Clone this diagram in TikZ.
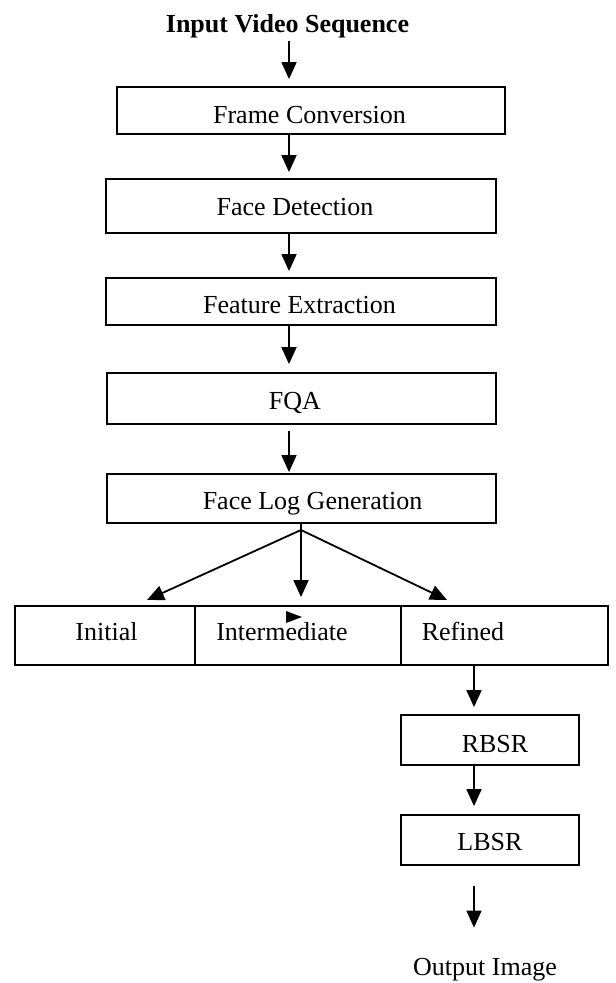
\documentclass[tikz,border=0pt]{standalone}
\usepackage{fontspec}
\setmainfont{Liberation Serif}
\usetikzlibrary{arrows.meta}
\tikzset{
  box/.style={draw, line width=1.8pt, rectangle, inner sep=0pt},
  lbl/.style={inner sep=0pt, anchor=base, font=\fontsize{26}{31}\selectfont},
  arr/.style={line width=1.8pt, -{Triangle[width=15pt,length=17pt]}},
  ln/.style={line width=1.8pt}
}
\begin{document}
\begin{tikzpicture}[x=1pt,y=-1pt]
\useasboundingbox (0,0) rectangle (616,983);
% boxes
\node[box, minimum width=388pt, minimum height=47pt] (fc) at (311,110.5) {};
\node[box, minimum width=390pt, minimum height=54pt] (fd) at (301,206) {};
\node[box, minimum width=390pt, minimum height=47pt] (fe) at (301,301.5) {};
\node[box, minimum width=389pt, minimum height=51pt] (fqa) at (301.5,398.5) {};
\node[box, minimum width=389pt, minimum height=49pt] (flg) at (301.5,498.5) {};
\node[box, minimum width=180pt, minimum height=59pt] (ini) at (105,635.5) {};
\node[box, minimum width=206pt, minimum height=59pt] (inter) at (298,635.5) {};
\node[box, minimum width=207pt, minimum height=59pt] (ref) at (504.5,635.5) {};
\node[box, minimum width=178pt, minimum height=50pt] (rbsr) at (490,740) {};
\node[box, minimum width=178pt, minimum height=50pt] (lbsr) at (490,840) {};
% labels
\node[lbl, font=\fontsize{26}{31}\selectfont\bfseries] (title) at (287.5,32) {Input Video Sequence};
\node[lbl] (tfc) at (309.5,123) {Frame Conversion};
\node[lbl] (tfd) at (295,215) {Face Detection};
\node[lbl] (tfe) at (299.5,313) {Feature Extraction};
\node[lbl] (tfqa) at (295,409) {FQA};
\node[lbl] (tflg) at (312.5,509) {Face Log Generation};
\node[lbl] (tini) at (106.5,640) {Initial};
\node[lbl] (tinter) at (282,640) {Intermediate};
\node[lbl] (tref) at (463,640) {Refined};
\node[lbl] (trbsr) at (495,752) {RBSR};
\node[lbl] (tlbsr) at (490,850) {LBSR};
\node[lbl] (out) at (485,975) {Output Image};
% coordinates
\coordinate (axis) at (289,0);
\coordinate (axis2) at (474,0);
\coordinate (fork) at (301,530);
\coordinate (tipL) at (147,600);
\coordinate (tipR) at (447,600);
% connectors
\draw[arr, shorten <=3pt, shorten >=7pt] (title.south -| axis) -- (fc.north -| axis);
\draw[arr, shorten >=6pt] (fc.south -| axis) -- (fd.north -| axis);
\draw[arr, shorten >=6pt] (fd.south -| axis) -- (fe.north -| axis);
\draw[arr, shorten >=8pt] (fe.south -| axis) -- (fqa.north -| axis);
\draw[arr, shorten <=6pt, shorten >=1pt] (fqa.south -| axis) -- (flg.north -| axis);
\draw[ln] (flg.south -| fork) -- (fork);
\draw[arr, shorten >=8pt] (fork) -- (fork |- inter.north);
\draw[arr] (fork) -- (tipL);
\draw[arr] (fork) -- (tipR);
\draw[arr, shorten >=7pt] (ref.south -| axis2) -- (rbsr.north -| axis2);
\draw[arr, shorten >=8pt] (rbsr.south -| axis2) -- (lbsr.north -| axis2);
\draw[arr, shorten <=20pt, shorten >=30pt] (lbsr.south -| axis2) -- (out.north -| axis2);
% small stray marker
\fill (286,611) -- (286,623) -- (302,617) -- cycle;
\end{tikzpicture}
\end{document}
